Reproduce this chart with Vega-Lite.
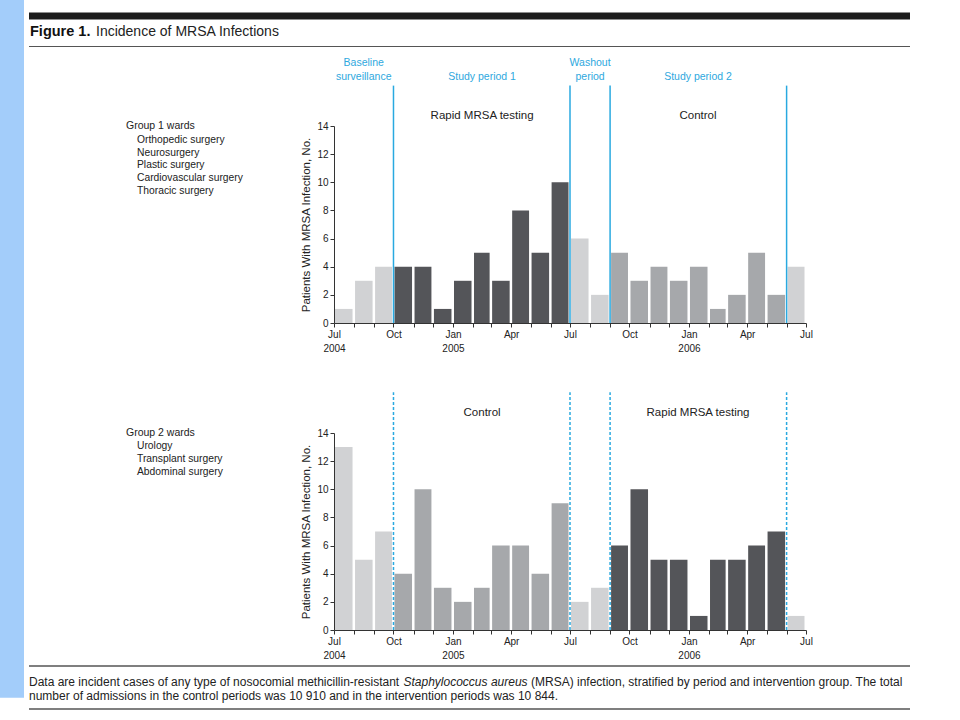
{
  "$schema": "https://vega.github.io/schema/vega-lite/v6.json",
  "padding": 0,
  "background": "white",
  "config": {
    "view": {"stroke": null},
    "font": "Liberation Sans",
    "axis": {
      "tickSize": 4, "tickColor": "#333333", "domainColor": "#333333",
      "labelFontSize": 10, "labelColor": "#222222", "labelPadding": 2, "labelLineHeight": 14,
      "labelOverlap": false, "labelFlush": false, "labelBound": false,
      "grid": false, "zindex": 1,
      "titleFontSize": 11.5, "titleFontWeight": "normal", "titleColor": "#222222", "titlePadding": 5
    }
  },
  "datasets": {
    "counts": [
      {"g":1,"start":"2004/07/01","end":"2004/08/01","n":1,"cond":"Baseline surveillance"},
      {"g":1,"start":"2004/08/01","end":"2004/09/01","n":3,"cond":"Baseline surveillance"},
      {"g":1,"start":"2004/09/01","end":"2004/10/01","n":4,"cond":"Baseline surveillance"},
      {"g":1,"start":"2004/10/01","end":"2004/11/01","n":4,"cond":"Rapid MRSA testing"},
      {"g":1,"start":"2004/11/01","end":"2004/12/01","n":4,"cond":"Rapid MRSA testing"},
      {"g":1,"start":"2004/12/01","end":"2005/01/01","n":1,"cond":"Rapid MRSA testing"},
      {"g":1,"start":"2005/01/01","end":"2005/02/01","n":3,"cond":"Rapid MRSA testing"},
      {"g":1,"start":"2005/02/01","end":"2005/03/01","n":5,"cond":"Rapid MRSA testing"},
      {"g":1,"start":"2005/03/01","end":"2005/04/01","n":3,"cond":"Rapid MRSA testing"},
      {"g":1,"start":"2005/04/01","end":"2005/05/01","n":8,"cond":"Rapid MRSA testing"},
      {"g":1,"start":"2005/05/01","end":"2005/06/01","n":5,"cond":"Rapid MRSA testing"},
      {"g":1,"start":"2005/06/01","end":"2005/07/01","n":10,"cond":"Rapid MRSA testing"},
      {"g":1,"start":"2005/07/01","end":"2005/08/01","n":6,"cond":"Washout period"},
      {"g":1,"start":"2005/08/01","end":"2005/09/01","n":2,"cond":"Washout period"},
      {"g":1,"start":"2005/09/01","end":"2005/10/01","n":5,"cond":"Control"},
      {"g":1,"start":"2005/10/01","end":"2005/11/01","n":3,"cond":"Control"},
      {"g":1,"start":"2005/11/01","end":"2005/12/01","n":4,"cond":"Control"},
      {"g":1,"start":"2005/12/01","end":"2006/01/01","n":3,"cond":"Control"},
      {"g":1,"start":"2006/01/01","end":"2006/02/01","n":4,"cond":"Control"},
      {"g":1,"start":"2006/02/01","end":"2006/03/01","n":1,"cond":"Control"},
      {"g":1,"start":"2006/03/01","end":"2006/04/01","n":2,"cond":"Control"},
      {"g":1,"start":"2006/04/01","end":"2006/05/01","n":5,"cond":"Control"},
      {"g":1,"start":"2006/05/01","end":"2006/06/01","n":2,"cond":"Control"},
      {"g":1,"start":"2006/06/01","end":"2006/07/01","n":4,"cond":"After study period 2"},
      {"g":2,"start":"2004/07/01","end":"2004/08/01","n":13,"cond":"Baseline surveillance"},
      {"g":2,"start":"2004/08/01","end":"2004/09/01","n":5,"cond":"Baseline surveillance"},
      {"g":2,"start":"2004/09/01","end":"2004/10/01","n":7,"cond":"Baseline surveillance"},
      {"g":2,"start":"2004/10/01","end":"2004/11/01","n":4,"cond":"Control"},
      {"g":2,"start":"2004/11/01","end":"2004/12/01","n":10,"cond":"Control"},
      {"g":2,"start":"2004/12/01","end":"2005/01/01","n":3,"cond":"Control"},
      {"g":2,"start":"2005/01/01","end":"2005/02/01","n":2,"cond":"Control"},
      {"g":2,"start":"2005/02/01","end":"2005/03/01","n":3,"cond":"Control"},
      {"g":2,"start":"2005/03/01","end":"2005/04/01","n":6,"cond":"Control"},
      {"g":2,"start":"2005/04/01","end":"2005/05/01","n":6,"cond":"Control"},
      {"g":2,"start":"2005/05/01","end":"2005/06/01","n":4,"cond":"Control"},
      {"g":2,"start":"2005/06/01","end":"2005/07/01","n":9,"cond":"Control"},
      {"g":2,"start":"2005/07/01","end":"2005/08/01","n":2,"cond":"Washout period"},
      {"g":2,"start":"2005/08/01","end":"2005/09/01","n":3,"cond":"Washout period"},
      {"g":2,"start":"2005/09/01","end":"2005/10/01","n":6,"cond":"Rapid MRSA testing"},
      {"g":2,"start":"2005/10/01","end":"2005/11/01","n":10,"cond":"Rapid MRSA testing"},
      {"g":2,"start":"2005/11/01","end":"2005/12/01","n":5,"cond":"Rapid MRSA testing"},
      {"g":2,"start":"2005/12/01","end":"2006/01/01","n":5,"cond":"Rapid MRSA testing"},
      {"g":2,"start":"2006/01/01","end":"2006/02/01","n":1,"cond":"Rapid MRSA testing"},
      {"g":2,"start":"2006/02/01","end":"2006/03/01","n":5,"cond":"Rapid MRSA testing"},
      {"g":2,"start":"2006/03/01","end":"2006/04/01","n":5,"cond":"Rapid MRSA testing"},
      {"g":2,"start":"2006/04/01","end":"2006/05/01","n":6,"cond":"Rapid MRSA testing"},
      {"g":2,"start":"2006/05/01","end":"2006/06/01","n":7,"cond":"Rapid MRSA testing"},
      {"g":2,"start":"2006/06/01","end":"2006/07/01","n":1,"cond":"After study period 2"}
    ],
    "bounds": [
      {"date":"2004/10/01"},
      {"date":"2005/07/01"},
      {"date":"2005/09/01"},
      {"date":"2006/06/01"}
    ],
    "periods": [
      {"label":["Baseline","surveillance"],"mid":"2004/08/16"},
      {"label":["","Study period 1"],"mid":"2005/02/15"},
      {"label":["Washout","period"],"mid":"2005/08/01"},
      {"label":["","Study period 2"],"mid":"2006/01/15"}
    ],
    "arms": [
      {"g":1,"arm":"Rapid MRSA testing","mid":"2005/02/15"},
      {"g":1,"arm":"Control","mid":"2006/01/15"},
      {"g":2,"arm":"Control","mid":"2005/02/15"},
      {"g":2,"arm":"Rapid MRSA testing","mid":"2006/01/15"}
    ],
    "wards": [
      {"g":1,"head":"Group 1 wards","items":["Orthopedic surgery","Neurosurgery","Plastic surgery","Cardiovascular surgery","Thoracic surgery"]},
      {"g":2,"head":"Group 2 wards","items":["Urology","Transplant surgery","Abdominal surgery"]}
    ],
    "one": [{}],
    "none": []
  },
  "concat": [
    {
      "width": 300,
      "height": 126,
      "data": {"name": "one"},
      "layer": [
        {
          "mark": {"type": "rect", "color": "#a3cdfa"},
          "encoding": {
            "x": {"datum": -29, "type": "quantitative", "scale": {"domain": [0, 300]}, "axis": null},
            "x2": {"datum": -5},
            "y": {"datum": 0, "type": "quantitative", "scale": {"domain": [0, 126], "reverse": true}, "axis": null},
            "y2": {"datum": 720}
          }
        },
        {
          "mark": {"type": "rect", "color": "#1c1c1c"},
          "encoding": {
            "x": {"datum": 0, "type": "quantitative", "axis": null},
            "x2": {"datum": 881},
            "y": {"datum": 13, "type": "quantitative", "axis": null},
            "y2": {"datum": 20}
          }
        },
        {
          "mark": {"type": "rule", "color": "#555555", "strokeWidth": 1.2},
          "encoding": {
            "x": {"datum": 0, "type": "quantitative", "axis": null},
            "x2": {"datum": 881},
            "y": {"datum": 48, "type": "quantitative", "axis": null}
          }
        },
        {
          "mark": {"type": "text", "text": "Figure 1.", "fontSize": 14.5, "fontWeight": "bold", "align": "left", "baseline": "alphabetic", "color": "#111111"},
          "encoding": {
            "x": {"datum": 1, "type": "quantitative", "axis": null},
            "y": {"datum": 37, "type": "quantitative", "axis": null}
          }
        },
        {
          "mark": {"type": "text", "text": "Incidence of MRSA Infections", "fontSize": 14, "align": "left", "baseline": "alphabetic", "color": "#222222"},
          "encoding": {
            "x": {"datum": 67, "type": "quantitative", "axis": null},
            "y": {"datum": 37, "type": "quantitative", "axis": null}
          }
        }
      ]
    },
    {
      "width": 472,
      "height": 126,
      "data": {"name": "none"},
      "mark": "point",
      "encoding": {}
    },
    {
      "width": 300,
      "height": 197,
      "data": {"name": "wards"},
      "transform": [{"filter": "datum.g == 1"}],
      "layer": [
        {
          "mark": {"type": "text", "align": "left", "baseline": "middle", "fontSize": 10.5, "color": "#222222"},
          "encoding": {
            "x": {"datum": 97, "type": "quantitative", "scale": {"domain": [0, 300]}, "axis": null},
            "y": {"datum": 14, "type": "quantitative", "scale": {"domain": [0, 14]}, "axis": null},
            "text": {"field": "head", "type": "nominal"}
          }
        },
        {
          "mark": {"type": "text", "align": "left", "baseline": "alphabetic", "dy": 16.9, "lineHeight": 12.7, "fontSize": 10.3, "color": "#222222"},
          "encoding": {
            "x": {"datum": 108, "type": "quantitative", "axis": null},
            "y": {"datum": 14, "type": "quantitative", "axis": null},
            "text": {"field": "items", "type": "nominal"}
          }
        }
      ]
    },
    {
      "width": 472,
      "height": 197,
      "layer": [
        {
          "data": {"name": "counts"},
          "transform": [{"filter": "datum.g == 1"}],
          "mark": {"type": "bar", "xOffset": 1, "x2Offset": -1.5},
          "encoding": {
            "x": {
              "field": "start", "type": "temporal", "title": null,
              "scale": {"domain": [{"year": 2004, "month": 7, "date": 1}, {"year": 2006, "month": 7, "date": 1}]},
              "axis": {
                "tickCount": {"interval": "month", "step": 1},
                "labelExpr": "month(datum.value) % 3 != 0 ? '' : ((month(datum.value) == 0 || (year(datum.value) == 2004 && month(datum.value) == 6)) ? [timeFormat(datum.value, '%b'), timeFormat(datum.value, '%Y')] : timeFormat(datum.value, '%b'))",
                "title": null
              }
            },
            "x2": {"field": "end"},
            "y": {
              "field": "n", "type": "quantitative",
              "scale": {"domain": [0, 14]},
              "axis": {"values": [0, 2, 4, 6, 8, 10, 12, 14], "title": "Patients With MRSA Infection, No."}
            },
            "y2": {"datum": 0},
            "color": {
              "field": "cond", "type": "nominal", "legend": null,
              "scale": {
                "domain": ["Baseline surveillance", "Rapid MRSA testing", "Control", "Washout period", "After study period 2"],
                "range": ["#d1d2d4", "#545559", "#a6a8ab", "#d1d2d4", "#d1d2d4"]
              }
            }
          }
        },
        {
          "data": {"name": "bounds"},
          "mark": {"type": "rule", "color": "#29a9e0", "strokeWidth": 1.5},
          "encoding": {
            "x": {"field": "date", "type": "temporal", "title": null},
            "y": {"datum": 0, "type": "quantitative", "axis": {"values": [0, 2, 4, 6, 8, 10, 12, 14], "title": "Patients With MRSA Infection, No."}},
            "y2": {"datum": 16.87}
          }
        },
        {
          "data": {"name": "periods"},
          "mark": {"type": "text", "baseline": "alphabetic", "fontSize": 10.5, "lineHeight": 13.7, "color": "#2ea8de"},
          "encoding": {
            "x": {"field": "mid", "type": "temporal", "title": null},
            "y": {"datum": 18.27, "type": "quantitative", "axis": {"values": [0, 2, 4, 6, 8, 10, 12, 14], "title": "Patients With MRSA Infection, No."}},
            "text": {"field": "label", "type": "nominal"}
          }
        },
        {
          "data": {"name": "arms"},
          "transform": [{"filter": "datum.g == 1"}],
          "mark": {"type": "text", "baseline": "middle", "fontSize": 11.5, "color": "#222222"},
          "encoding": {
            "x": {"field": "mid", "type": "temporal", "title": null},
            "y": {"datum": 14.71, "type": "quantitative", "axis": {"values": [0, 2, 4, 6, 8, 10, 12, 14], "title": "Patients With MRSA Infection, No."}},
            "text": {"field": "arm", "type": "nominal"}
          }
        }
      ]
    },
    {
      "width": 300,
      "height": 110,
      "data": {"name": "none"},
      "mark": "point",
      "encoding": {}
    },
    {
      "width": 472,
      "height": 110,
      "data": {"name": "none"},
      "mark": "point",
      "encoding": {}
    },
    {
      "width": 300,
      "height": 197,
      "data": {"name": "wards"},
      "transform": [{"filter": "datum.g == 2"}],
      "layer": [
        {
          "mark": {"type": "text", "align": "left", "baseline": "middle", "fontSize": 10.5, "color": "#222222"},
          "encoding": {
            "x": {"datum": 97, "type": "quantitative", "scale": {"domain": [0, 300]}, "axis": null},
            "y": {"datum": 14, "type": "quantitative", "scale": {"domain": [0, 14]}, "axis": null},
            "text": {"field": "head", "type": "nominal"}
          }
        },
        {
          "mark": {"type": "text", "align": "left", "baseline": "alphabetic", "dy": 16, "lineHeight": 12.8, "fontSize": 10.3, "color": "#222222"},
          "encoding": {
            "x": {"datum": 108, "type": "quantitative", "axis": null},
            "y": {"datum": 14, "type": "quantitative", "axis": null},
            "text": {"field": "items", "type": "nominal"}
          }
        }
      ]
    },
    {
      "width": 472,
      "height": 197,
      "layer": [
        {
          "data": {"name": "counts"},
          "transform": [{"filter": "datum.g == 2"}],
          "mark": {"type": "bar", "xOffset": 1, "x2Offset": -1.5},
          "encoding": {
            "x": {
              "field": "start", "type": "temporal", "title": null,
              "scale": {"domain": [{"year": 2004, "month": 7, "date": 1}, {"year": 2006, "month": 7, "date": 1}]},
              "axis": {
                "tickCount": {"interval": "month", "step": 1},
                "labelExpr": "month(datum.value) % 3 != 0 ? '' : ((month(datum.value) == 0 || (year(datum.value) == 2004 && month(datum.value) == 6)) ? [timeFormat(datum.value, '%b'), timeFormat(datum.value, '%Y')] : timeFormat(datum.value, '%b'))",
                "title": null
              }
            },
            "x2": {"field": "end"},
            "y": {
              "field": "n", "type": "quantitative",
              "scale": {"domain": [0, 14]},
              "axis": {"values": [0, 2, 4, 6, 8, 10, 12, 14], "title": "Patients With MRSA Infection, No."}
            },
            "y2": {"datum": 0},
            "color": {
              "field": "cond", "type": "nominal", "legend": null,
              "scale": {
                "domain": ["Baseline surveillance", "Rapid MRSA testing", "Control", "Washout period", "After study period 2"],
                "range": ["#d1d2d4", "#545559", "#a6a8ab", "#d1d2d4", "#d1d2d4"]
              }
            }
          }
        },
        {
          "data": {"name": "bounds"},
          "mark": {"type": "rule", "color": "#29a9e0", "strokeWidth": 1.5, "strokeDash": [3, 2]},
          "encoding": {
            "x": {"field": "date", "type": "temporal", "title": null},
            "y": {"datum": 0, "type": "quantitative", "axis": {"values": [0, 2, 4, 6, 8, 10, 12, 14], "title": "Patients With MRSA Infection, No."}},
            "y2": {"datum": 16.9}
          }
        },
        {
          "data": {"name": "arms"},
          "transform": [{"filter": "datum.g == 2"}],
          "mark": {"type": "text", "baseline": "middle", "fontSize": 11.5, "color": "#222222"},
          "encoding": {
            "x": {"field": "mid", "type": "temporal", "title": null},
            "y": {"datum": 15.42, "type": "quantitative", "axis": {"values": [0, 2, 4, 6, 8, 10, 12, 14], "title": "Patients With MRSA Infection, No."}},
            "text": {"field": "arm", "type": "nominal"}
          }
        }
      ]
    },
    {
      "width": 300,
      "height": 90,
      "data": {"name": "one"},
      "layer": [
        {
          "mark": {"type": "rule", "color": "#555555", "strokeWidth": 1.3},
          "encoding": {
            "x": {"datum": 0, "type": "quantitative", "scale": {"domain": [0, 300]}, "axis": null},
            "x2": {"datum": 881},
            "y": {"datum": 36, "type": "quantitative", "scale": {"domain": [0, 90], "reverse": true}, "axis": null}
          }
        },
        {
          "mark": {"type": "rule", "color": "#555555", "strokeWidth": 1.3},
          "encoding": {
            "x": {"datum": 0, "type": "quantitative", "axis": null},
            "x2": {"datum": 881},
            "y": {"datum": 79, "type": "quantitative", "axis": null}
          }
        },
        {
          "mark": {"type": "text", "text": "Data are incident cases of any type of nosocomial methicillin-resistant", "fontSize": 12, "align": "left", "baseline": "middle", "color": "#222222"},
          "encoding": {
            "x": {"datum": 0, "type": "quantitative", "axis": null},
            "y": {"datum": 52, "type": "quantitative", "axis": null}
          }
        },
        {
          "mark": {"type": "text", "text": "Staphylococcus aureus", "fontSize": 12, "fontStyle": "italic", "align": "left", "baseline": "middle", "color": "#222222"},
          "encoding": {
            "x": {"datum": 374.5, "type": "quantitative", "axis": null},
            "y": {"datum": 52, "type": "quantitative", "axis": null}
          }
        },
        {
          "mark": {"type": "text", "text": "(MRSA) infection, stratified by period and intervention group. The total", "fontSize": 12, "align": "left", "baseline": "middle", "color": "#222222"},
          "encoding": {
            "x": {"datum": 502, "type": "quantitative", "axis": null},
            "y": {"datum": 52, "type": "quantitative", "axis": null}
          }
        },
        {
          "mark": {"type": "text", "text": "number of admissions in the control periods was 10 910 and in the intervention periods was 10 844.", "fontSize": 12, "align": "left", "baseline": "middle", "color": "#222222"},
          "encoding": {
            "x": {"datum": 0, "type": "quantitative", "axis": null},
            "y": {"datum": 66, "type": "quantitative", "axis": null}
          }
        }
      ]
    }
  ],
  "columns": 2,
  "spacing": {"row": 0, "column": 5},
  "bounds": "flush",
  "align": "each"
}
